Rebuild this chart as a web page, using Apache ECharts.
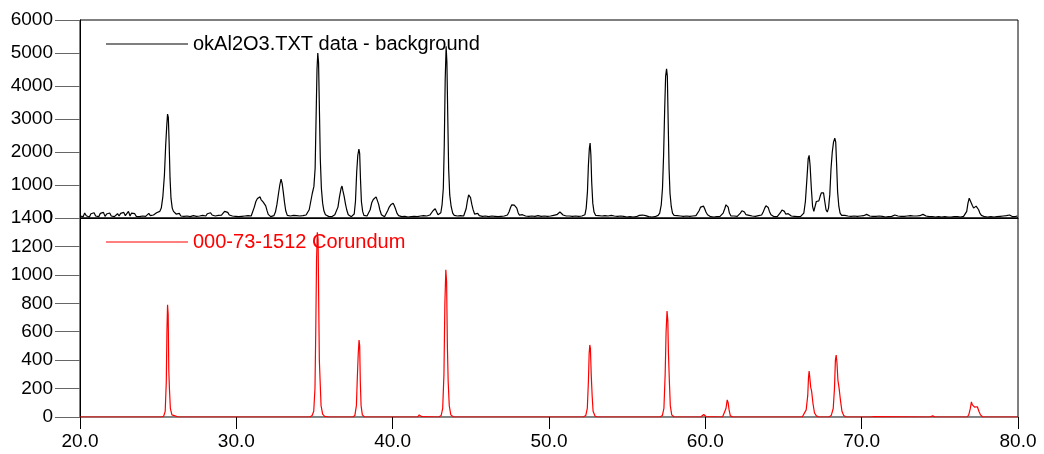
<!DOCTYPE html>
<html>
<head>
<meta charset="utf-8">
<script src="https://cdn.jsdelivr.net/npm/echarts@6/dist/echarts.min.js"></script>
<style>
html,body{margin:0;padding:0;background:#fff;}
#chart{width:1044px;height:454px;}
</style>
</head>
<body>
<div id="chart"></div>
<script>
// ---- DATA ----
var measuredName = 'okAl2O3.TXT data - background';
var refName = '000-73-1512 Corundum';

var xTicks = [20, 30, 40, 50, 60, 70, 80];
var upperTicks = [0, 1000, 2000, 3000, 4000, 5000, 6000];
var lowerTicks = [0, 200, 400, 600, 800, 1000, 1200, 1400];

var measured = [
[20.0,60],[20.1,120],[20.2,40],[20.3,150],[20.4,70],[20.5,110],[20.6,30],[20.7,130],[20.8,90],[20.9,160],
[21.0,60],[21.1,100],[21.2,40],[21.3,140],[21.4,80],[21.5,170],[21.6,50],[21.7,120],[21.8,90],[21.9,150],
[22.0,60],[22.1,110],[22.2,40],[22.3,90],[22.4,130],[22.5,60],[22.6,140],[22.7,80],[22.8,170],[22.9,70],
[23.0,120],[23.1,200],[23.2,60],[23.3,150],[23.4,90],[23.5,130],[23.6,50],[23.7,70],[23.8,40],[23.9,90],
[24.0,60],[24.1,110],[24.2,50],[24.3,80],[24.4,140],[24.5,70],[24.6,130],[24.7,90],[24.8,110],[24.9,160],
[25.0,130],[25.1,200],[25.2,300],[25.3,650],[25.4,1300],[25.48,2200],[25.55,2800],[25.6,3150],[25.65,3050],[25.7,2300],[25.76,1200],[25.82,600],[25.9,300],[25.98,200],
[26.05,240],[26.15,120],[26.25,80],[26.35,140],[26.45,60],[26.55,120],[26.65,50],[26.75,90],[26.85,60],[26.95,110],
[27.05,40],[27.15,100],[27.25,70],[27.35,130],[27.45,50],[27.55,90],[27.65,60],[27.75,120],[27.85,80],[27.95,110],
[28.05,60],[28.15,130],[28.25,70],[28.35,160],[28.45,90],[28.55,140],[28.65,60],[28.75,110],[28.85,80],[28.95,130],
[29.05,90],[29.15,150],[29.25,200],[29.35,240],[29.45,170],[29.55,90],[29.65,110],[29.75,60],[29.85,90],[29.95,50],
[30.05,70],[30.15,40],[30.25,80],[30.35,50],[30.45,30],[30.55,60],[30.65,40],[30.75,70],[30.85,40],[30.95,60],
[31.05,120],[31.15,330],[31.25,500],[31.35,590],[31.45,560],[31.52,640],[31.58,560],[31.65,610],[31.72,480],[31.8,420],[31.88,370],[31.96,230],[32.04,110],[32.12,50],
[32.2,40],[32.3,30],[32.4,70],[32.5,180],[32.6,420],[32.7,750],[32.78,1000],[32.86,1180],[32.93,1050],[33.0,800],[33.08,480],[33.16,220],[33.26,80],
[33.36,40],[33.46,60],[33.56,40],[33.66,80],[33.76,50],[33.86,70],[33.96,40],[34.06,60],[34.16,100],[34.26,70],[34.36,50],[34.46,90],[34.56,120],
[34.66,250],[34.76,500],[34.86,750],[34.96,950],[35.04,1500],[35.1,3000],[35.16,4500],[35.21,5000],[35.26,4700],[35.31,3400],[35.37,1800],[35.44,900],[35.52,450],[35.6,220],[35.7,100],
[35.8,60],[35.9,50],[36.0,70],[36.1,40],[36.2,60],[36.3,100],[36.4,120],[36.5,330],[36.6,650],[36.7,900],[36.76,970],[36.82,820],[36.9,650],[36.98,430],[37.06,250],[37.16,100],
[37.26,60],[37.36,40],[37.46,60],[37.54,120],[37.62,500],[37.7,1400],[37.77,1900],[37.84,2090],[37.89,1950],[37.94,1200],[38.0,500],[38.08,200],[38.16,80],
[38.26,40],[38.36,60],[38.46,80],[38.56,250],[38.66,460],[38.76,560],[38.86,600],[38.94,640],[39.02,590],[39.1,420],[39.18,250],[39.28,100],[39.38,50],
[39.48,40],[39.58,80],[39.68,220],[39.78,330],[39.88,400],[39.96,430],[40.03,450],[40.1,380],[40.18,280],[40.28,140],[40.38,70],
[40.48,50],[40.58,40],[40.68,70],[40.78,50],[40.88,60],[40.98,30],[41.08,50],[41.18,40],[41.28,80],[41.38,50],[41.48,70],[41.58,40],[41.68,90],[41.78,60],[41.88,50],[41.98,70],[42.08,40],[42.18,60],[42.28,50],[42.38,90],
[42.48,150],[42.58,220],[42.66,270],[42.72,280],[42.8,200],[42.9,100],[43.0,90],[43.08,160],[43.16,400],[43.24,900],[43.3,2200],[43.36,4200],[43.42,5200],[43.47,4700],[43.52,3200],[43.58,1500],[43.65,700],[43.74,350],[43.84,150],
[43.94,80],[44.04,50],[44.14,60],[44.24,40],[44.34,70],[44.44,40],[44.54,60],[44.62,120],[44.7,280],[44.78,520],[44.86,700],[44.92,730],[44.98,620],[45.06,420],[45.14,260],[45.24,120],[45.34,90],[45.44,140],
[45.54,70],[45.64,100],[45.74,50],[45.84,80],[45.94,60],[46.04,90],[46.14,40],[46.24,70],[46.34,60],[46.44,90],[46.54,50],[46.64,70],[46.74,40],[46.84,60],[46.94,50],[47.04,80],[47.14,60],[47.24,100],[47.34,90],
[47.44,180],[47.54,320],[47.62,400],[47.7,420],[47.78,390],[47.86,410],[47.94,300],[48.02,170],[48.1,90],[48.2,60],[48.3,100],
[48.4,40],[48.5,60],[48.6,30],[48.7,50],[48.8,40],[48.9,60],[49.0,30],[49.1,50],[49.2,40],[49.3,70],[49.4,30],[49.5,50],[49.6,40],[49.7,60],[49.8,30],[49.9,50],
[50.0,40],[50.1,60],[50.2,40],[50.3,80],[50.4,60],[50.5,100],[50.6,150],[50.7,180],[50.8,120],[50.9,90],[51.0,130],[51.1,60],
[51.2,40],[51.3,60],[51.4,30],[51.5,50],[51.6,40],[51.7,60],[51.8,30],[51.9,50],[52.0,40],[52.1,60],[52.2,50],[52.3,100],
[52.38,300],[52.46,800],[52.52,1600],[52.58,2100],[52.63,2270],[52.68,1900],[52.73,1100],[52.8,450],[52.88,180],[52.98,80],
[53.08,50],[53.18,70],[53.28,40],[53.38,60],[53.48,30],[53.58,70],[53.68,40],[53.78,60],[53.88,50],[53.98,80],[54.08,40],[54.18,60],[54.28,30],[54.38,50],[54.48,40],[54.58,60],[54.68,30],[54.78,50],[54.88,40],[54.98,30],
[55.08,50],[55.18,40],[55.28,60],[55.38,30],[55.48,50],[55.58,40],[55.68,60],[55.78,80],[55.88,70],[55.98,90],[56.08,110],[56.18,70],[56.28,80],[56.38,40],[56.48,60],[56.58,30],[56.68,50],[56.78,40],[56.88,60],[56.98,80],
[57.08,150],[57.18,400],[57.26,900],[57.33,1900],[57.4,3300],[57.46,4300],[57.52,4520],[57.57,4300],[57.62,3000],[57.68,1500],[57.74,750],[57.82,350],[57.9,150],
[58.0,80],[58.1,50],[58.2,70],[58.3,30],[58.4,60],[58.5,40],[58.6,50],[58.7,30],[58.8,60],[58.9,40],[59.0,50],[59.1,30],[59.2,60],[59.3,40],[59.4,70],
[59.5,120],[59.6,220],[59.7,330],[59.8,390],[59.88,360],[59.96,280],[60.04,180],[60.14,100],[60.24,60],[60.34,40],[60.44,70],[60.54,30],[60.64,60],[60.74,40],[60.84,70],[60.94,50],
[61.04,90],[61.14,150],[61.24,280],[61.32,400],[61.4,450],[61.46,330],[61.54,150],[61.64,60],[61.74,40],[61.84,60],[61.94,30],[62.04,50],
[62.14,80],[62.24,150],[62.34,220],[62.42,240],[62.5,180],[62.6,100],[62.7,60],[62.8,80],[62.9,40],[63.0,60],[63.1,30],[63.2,50],[63.3,40],[63.4,70],[63.5,40],
[63.6,90],[63.7,180],[63.8,300],[63.88,370],[63.95,390],[64.02,320],[64.1,200],[64.2,100],[64.3,60],[64.4,40],[64.5,60],[64.6,40],
[64.7,80],[64.8,160],[64.9,240],[64.98,270],[65.06,200],[65.14,120],[65.22,100],[65.3,130],[65.4,80],[65.5,60],[65.6,90],[65.7,50],[65.8,60],[65.9,40],[66.0,70],[66.1,50],[66.2,60],
[66.3,150],[66.4,500],[66.5,1200],[66.58,1800],[66.64,1900],[66.7,1600],[66.78,900],[66.86,350],[66.94,200],
[67.02,350],[67.1,500],[67.18,560],[67.26,520],[67.34,650],[67.42,760],[67.5,790],[67.56,760],[67.64,500],[67.72,250],[67.8,180],
[67.88,300],[67.96,700],[68.04,1500],[68.12,2000],[68.2,2300],[68.28,2420],[68.34,2300],[68.4,1600],[68.46,800],[68.54,350],[68.62,150],[68.72,80],
[68.82,50],[68.92,80],[69.02,40],[69.12,60],[69.22,30],[69.32,50],[69.42,40],[69.52,60],[69.62,30],[69.72,50],[69.82,40],[69.92,60],
[70.02,40],[70.12,70],[70.22,90],[70.32,110],[70.42,80],[70.52,60],[70.62,40],[70.72,50],[70.82,30],[70.92,50],[71.02,40],[71.12,60],[71.22,30],[71.32,50],[71.42,40],[71.52,30],[71.62,50],[71.72,40],[71.82,60],[71.92,50],
[72.02,70],[72.12,90],[72.22,80],[72.32,60],[72.42,40],[72.52,50],[72.62,30],[72.72,50],[72.82,40],[72.92,60],[73.02,50],[73.12,70],[73.22,40],[73.32,60],[73.42,80],[73.52,60],[73.62,50],[73.72,70],[73.82,90],[73.92,110],
[74.02,80],[74.12,60],[74.22,70],[74.32,40],[74.42,60],[74.52,40],[74.62,50],[74.72,30],[74.82,60],[74.92,40],[75.02,50],[75.12,30],[75.22,60],[75.32,40],[75.42,50],[75.52,30],[75.62,40],[75.72,30],[75.82,50],[75.92,40],
[76.02,60],[76.12,40],[76.22,50],[76.32,30],[76.42,40],[76.52,50],[76.62,80],[76.72,200],[76.8,450],[76.88,600],[76.94,640],[77.0,550],[77.08,380],[77.16,300],[77.24,330],[77.32,360],[77.4,340],[77.48,250],[77.56,150],[77.66,80],
[77.76,50],[77.86,40],[77.96,60],[78.06,30],[78.16,50],[78.26,40],[78.36,60],[78.46,30],[78.56,50],[78.66,40],[78.76,70],[78.86,50],[78.96,90],[79.06,60],[79.16,40],[79.26,70],[79.36,50],[79.46,90],[79.56,60],[79.66,40],[79.76,70],[79.86,50],[79.96,60],[80.0,50]
];

// reference pattern 000-73-1512 Corundum (2theta, intensity)
var corundum = [
[20.0,0],[25.2,0],[25.35,5],[25.45,40],[25.52,250],[25.56,600],[25.6,790],[25.64,720],[25.68,330],[25.72,200],[25.78,60],[25.88,15],[26.0,3],[26.3,0],
[34.7,0],[34.85,10],[34.95,40],[35.03,200],[35.08,600],[35.13,1100],[35.18,1300],[35.23,1250],[35.27,800],[35.31,400],[35.36,250],[35.42,80],[35.52,20],[35.65,5],[35.9,0],
[37.45,0],[37.58,10],[37.68,80],[37.74,280],[37.8,450],[37.85,542],[37.89,500],[37.93,250],[37.98,80],[38.06,15],[38.14,3],[38.2,0],
[41.6,0],[41.7,15],[41.8,10],[41.86,2],[41.92,0],
[42.95,0],[43.1,10],[43.2,60],[43.28,300],[43.34,800],[43.4,1035],[43.45,950],[43.5,500],[43.55,250],[43.62,80],[43.72,15],[43.8,3],[43.9,0],
[52.2,0],[52.35,10],[52.45,60],[52.52,250],[52.57,450],[52.61,507],[52.65,480],[52.7,300],[52.76,150],[52.82,40],[52.95,5],[53.1,0],
[57.1,0],[57.25,10],[57.35,60],[57.43,300],[57.49,600],[57.55,746],[57.6,680],[57.64,450],[57.7,250],[57.76,80],[57.85,15],[57.93,3],[58.0,0],
[59.7,0],[59.8,8],[59.9,18],[60.0,8],[60.06,2],[60.12,0],
[61.1,0],[61.22,10],[61.32,60],[61.4,120],[61.46,100],[61.52,50],[61.6,8],[61.68,2],[61.76,0],
[66.2,0],[66.32,10],[66.45,50],[66.55,150],[66.6,280],[66.64,324],[66.68,280],[66.74,210],[66.8,180],[66.88,100],[66.98,30],[67.1,8],[67.18,2],[67.25,0],
[67.9,0],[68.05,10],[68.18,60],[68.26,200],[68.32,400],[68.37,436],[68.42,380],[68.48,260],[68.56,200],[68.64,120],[68.74,40],[68.85,10],[68.93,2],[69.0,0],
[70.6,0],[70.7,8],[70.76,2],[70.82,0],
[74.35,0],[74.45,12],[74.55,8],[74.62,2],[74.7,0],
[76.75,0],[76.85,15],[76.95,60],[77.02,106],[77.08,85],[77.14,80],[77.22,70],[77.3,75],[77.4,72],[77.5,40],[77.6,15],[77.68,3],[77.75,0],[80.0,0]
];

// ---- CHART ----
var FONT = '"Liberation Sans", Arial, sans-serif';
var chart = echarts.init(document.getElementById('chart'), null, {renderer: 'canvas'});

function yAxisCfg(gridIndex, ticks) {
  return {
    type: 'value', gridIndex: gridIndex,
    min: ticks[0], max: ticks[ticks.length - 1],
    interval: ticks[1] - ticks[0],
    showMinLabel: gridIndex === 1,
    axisLine: {show: true, lineStyle: {color: '#000', width: 1}},
    axisTick: {show: true, inside: false, length: 25, lineStyle: {color: '#666', width: 1}},
    axisLabel: {show: true, margin: 27, color: '#000', fontSize: 19, fontFamily: FONT,
      formatter: function (v) { return String(v); }},
    splitLine: {show: false}
  };
}

chart.setOption({
  animation: false,
  backgroundColor: '#fff',
  grid: [
    {left: 80, right: 26, top: 20, height: 198, show: true, borderColor: '#000', borderWidth: 1},
    {left: 80, right: 26, top: 218, height: 199, show: true, borderColor: '#000', borderWidth: 1}
  ],
  legend: [
    {data: [measuredName], left: 106, top: 34, padding: 0, icon: 'rect', itemWidth: 82, itemHeight: 1,
     selectedMode: false, textStyle: {color: '#000', fontSize: 20, fontFamily: FONT}},
    {data: [refName], left: 106, top: 232, padding: 0, icon: 'rect', itemWidth: 82, itemHeight: 1,
     selectedMode: false, textStyle: {color: '#ff0000', fontSize: 20, fontFamily: FONT}}
  ],
  xAxis: [
    {type: 'value', gridIndex: 0, min: xTicks[0], max: xTicks[xTicks.length - 1], interval: xTicks[1] - xTicks[0],
     axisLine: {show: true, lineStyle: {color: '#000'}}, axisTick: {show: false}, axisLabel: {show: false}, splitLine: {show: false}},
    {type: 'value', gridIndex: 1, min: xTicks[0], max: xTicks[xTicks.length - 1], interval: xTicks[1] - xTicks[0],
     axisLine: {show: true, lineStyle: {color: '#888'}},
     axisTick: {show: true, inside: false, length: 12, lineStyle: {color: '#000'}},
     axisLabel: {show: true, margin: 15, color: '#000', fontSize: 19, fontFamily: FONT,
       formatter: function (v) { return v.toFixed(1); }},
     splitLine: {show: false}}
  ],
  yAxis: [yAxisCfg(0, upperTicks), yAxisCfg(1, lowerTicks)],
  series: [
    {name: measuredName, type: 'line', xAxisIndex: 0, yAxisIndex: 0, data: measured,
     smooth: false, showSymbol: false, symbol: 'none',
     lineStyle: {color: '#000', width: 1.2}, itemStyle: {color: '#000'}},
    {name: refName, type: 'line', xAxisIndex: 1, yAxisIndex: 1, data: corundum,
     smooth: false, showSymbol: false, symbol: 'none',
     lineStyle: {color: '#ff0000', width: 1.2}, itemStyle: {color: '#ff0000'}}
  ]
});
</script>
</body>
</html>
